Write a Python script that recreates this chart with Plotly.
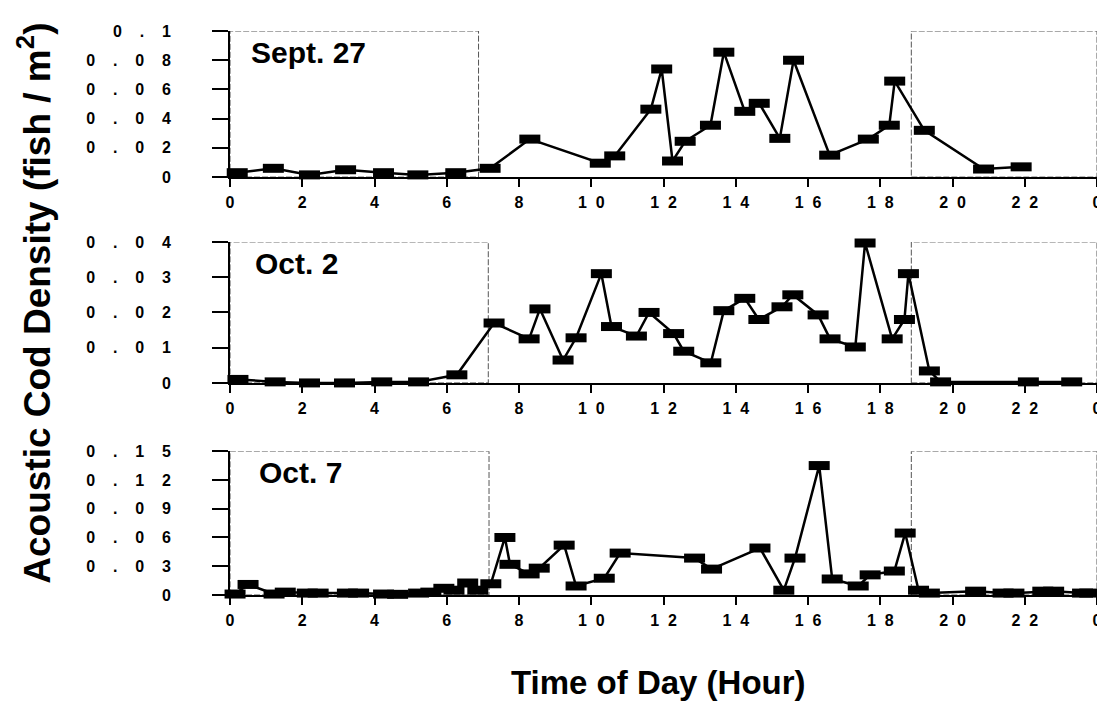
import plotly.graph_objects as go
from plotly.subplots import make_subplots

# ---------------- data ----------------
sept27_hours = [0.2, 1.2, 2.2, 3.2, 4.25, 5.2, 6.25, 7.2, 8.3, 10.25, 10.65, 11.65, 11.95,
                12.25, 12.6, 13.3, 13.67, 14.25, 14.65, 15.22, 15.6, 16.6, 17.67, 18.25,
                18.4, 19.22, 20.86, 21.9]
sept27_dens = [0.003, 0.006, 0.0015, 0.005, 0.003, 0.0015, 0.003, 0.006, 0.026, 0.0095,
               0.0145, 0.0465, 0.074, 0.011, 0.0245, 0.0355, 0.0855, 0.045, 0.0505, 0.0265,
               0.080, 0.015, 0.026, 0.0355, 0.0657, 0.032, 0.0055, 0.007]

oct2_hours = [0.22, 1.25, 2.2, 3.17, 4.2, 5.22, 6.28, 7.31, 8.28, 8.58, 9.22, 9.58, 10.28,
              10.56, 11.25, 11.6, 12.28, 12.56, 13.31, 13.67, 14.25, 14.64, 15.28, 15.58,
              16.28, 16.61, 17.31, 17.58, 18.33, 18.67, 18.78, 19.36, 19.67, 22.1, 23.3]
oct2_dens = [0.001, 0.0003, 0.0, 0.0, 0.0003, 0.0003, 0.0023, 0.017, 0.0125, 0.021, 0.0065,
             0.0128, 0.031, 0.016, 0.0133, 0.020, 0.014, 0.009, 0.0057, 0.0205, 0.024, 0.018,
             0.0216, 0.025, 0.0193, 0.0125, 0.0102, 0.0397, 0.0125, 0.018, 0.031, 0.0034,
             0.0003, 0.0003, 0.0003]

oct7_hours = [0.14, 0.5, 1.22, 1.53, 2.14, 2.44, 3.25, 3.56, 4.25, 4.64, 5.22, 5.56, 5.92,
              6.2, 6.58, 6.86, 7.22, 7.61, 7.75, 8.28, 8.56, 9.25, 9.58, 10.36, 10.8, 12.86,
              13.33, 14.67, 15.33, 15.64, 16.31, 16.67, 17.39, 17.72, 18.39, 18.69, 19.06,
              19.36, 20.64, 21.4, 21.7, 22.5, 22.8, 23.6, 23.8]
oct7_dens = [0.001, 0.011, 0.001, 0.003, 0.002, 0.002, 0.002, 0.002, 0.001, 0.0007, 0.002,
             0.003, 0.007, 0.005, 0.0125, 0.005, 0.0117, 0.060, 0.032, 0.022, 0.028, 0.052,
             0.0094, 0.0175, 0.0437, 0.0385, 0.027, 0.049, 0.005, 0.0385, 0.135, 0.0167,
             0.0094, 0.021, 0.025, 0.0646, 0.005, 0.002, 0.004, 0.002, 0.002, 0.004, 0.004,
             0.002, 0.002]

panel_labels = ["Sept. 27", "Oct. 2", "Oct. 7"]

x_tickvals = [0, 2, 4, 6, 8, 10, 12, 14, 16, 18, 20, 22, 24]
x_ticktext = ["0", "2", "4", "6", "8", "10", "12", "14", "16", "18", "20", "22", "0"]

y1_tickvals = [0, 0.02, 0.04, 0.06, 0.08, 0.1]
y1_ticktext = ["0", "0.02", "0.04", "0.06", "0.08", "0.1"]
y2_tickvals = [0, 0.01, 0.02, 0.03, 0.04]
y2_ticktext = ["0", "0.01", "0.02", "0.03", "0.04"]
y3_tickvals = [0, 0.03, 0.06, 0.09, 0.12, 0.15]
y3_ticktext = ["0", "0.03", "0.06", "0.09", "0.12", "0.15"]

# night periods (start, end) per panel
night1 = [(0, 6.88), (18.86, 24)]
night2 = [(0, 7.15), (18.86, 24)]
night3 = [(0, 7.17), (18.86, 24)]

y_ranges = [[0, 0.1], [0, 0.04], [0, 0.15]]

# ---------------- figure ----------------
def spaced(s, n):
    # widen character spacing like the scanned original
    return ("\u2007" * n).join(list(s))

FONT = "Liberation Sans, Arial, sans-serif"

fig = make_subplots(rows=3, cols=1, shared_xaxes=False, vertical_spacing=0.05)

series = [(sept27_hours, sept27_dens), (oct2_hours, oct2_dens), (oct7_hours, oct7_dens)]
for i, (hx, dy) in enumerate(series, start=1):
    fig.add_trace(go.Scatter(
        x=hx, y=dy, mode="lines+markers",
        line=dict(color="black", width=2.5),
        # horizontal bar symbol with thick stroke -> small filled rectangle
        marker=dict(symbol="line-ew", size=15, color="black",
                    line=dict(color="black", width=9)),
        cliponaxis=False, showlegend=False,
    ), row=i, col=1)

nights = [night1, night2, night3]
for i, nl in enumerate(nights, start=1):
    xref = "x" if i == 1 else f"x{i}"
    yref = "y" if i == 1 else f"y{i}"
    for (a, b) in nl:
        fig.add_shape(type="rect", xref=xref, yref=yref, x0=a, x1=b,
                      y0=0, y1=y_ranges[i - 1][1],
                      line=dict(color="#555555", width=1, dash="6px,2px"),
                      fillcolor="rgba(0,0,0,0)", layer="below")

# domains (paper fractions)
domains = [[0.741, 1.0], [0.376, 0.626], [0.0, 0.255]]
ytv = [(y1_tickvals, y1_ticktext), (y2_tickvals, y2_ticktext), (y3_tickvals, y3_ticktext)]
for i in range(1, 4):
    xa = "xaxis" if i == 1 else f"xaxis{i}"
    ya = "yaxis" if i == 1 else f"yaxis{i}"
    fig.layout[xa].update(
        range=[0, 24], tickvals=x_tickvals, ticktext=[spaced(t, 1) for t in x_ticktext],
        showgrid=False, zeroline=False, showline=True, linecolor="black", linewidth=2,
        ticks="outside", ticklen=8, tickwidth=2, tickcolor="black",
        tickfont=dict(family=FONT, size=16, color="black", weight="bold"),
        ticklabelstandoff=2, automargin=False,
    )
    tv, tt = ytv[i - 1]
    fig.layout[ya].update(
        domain=domains[i - 1], range=y_ranges[i - 1], tickvals=tv,
        ticktext=[spaced(t, 2) for t in tt],
        showgrid=False, zeroline=False, showline=True, linecolor="black", linewidth=2,
        ticks="outside", ticklen=16, tickwidth=2, tickcolor="black",
        tickfont=dict(family=FONT, size=16, color="black", weight="bold"),
        ticklabelstandoff=38, automargin=False,
    )

# panel labels
label_x = [0.53, 0.64, 0.75]
for i, txt in enumerate(panel_labels, start=1):
    xref = "x" if i == 1 else f"x{i}"
    yref = "y" if i == 1 else f"y{i}"
    top = y_ranges[i - 1][1]
    fig.add_annotation(x=label_x[i - 1], y=top * 0.85, xref=xref, yref=yref,
                       text=txt, showarrow=False, xanchor="left", yanchor="middle",
                       font=dict(family=FONT, size=30, color="black", weight="bold"))

# axis titles
fig.add_annotation(x=-0.225, y=0.518, xref="paper", yref="paper",
                   text="Acoustic Cod Density (fish / m<sup>2</sup>)", textangle=-90,
                   showarrow=False, xanchor="center", yanchor="middle",
                   font=dict(family=FONT, size=37, color="black", weight="bold"))
fig.add_annotation(x=0.494, y=-0.156, xref="paper", yref="paper",
                   text="Time of Day (Hour)", showarrow=False,
                   xanchor="center", yanchor="middle",
                   font=dict(family=FONT, size=33, color="black", weight="bold"))

# the page body has an 8px margin, so the figure is drawn 8px smaller and offset
fig.update_layout(
    width=1097, height=704,
    margin=dict(l=222, r=8, t=23, b=117, autoexpand=False),
    paper_bgcolor="white", plot_bgcolor="white",
)

fig.write_html("out.html")
